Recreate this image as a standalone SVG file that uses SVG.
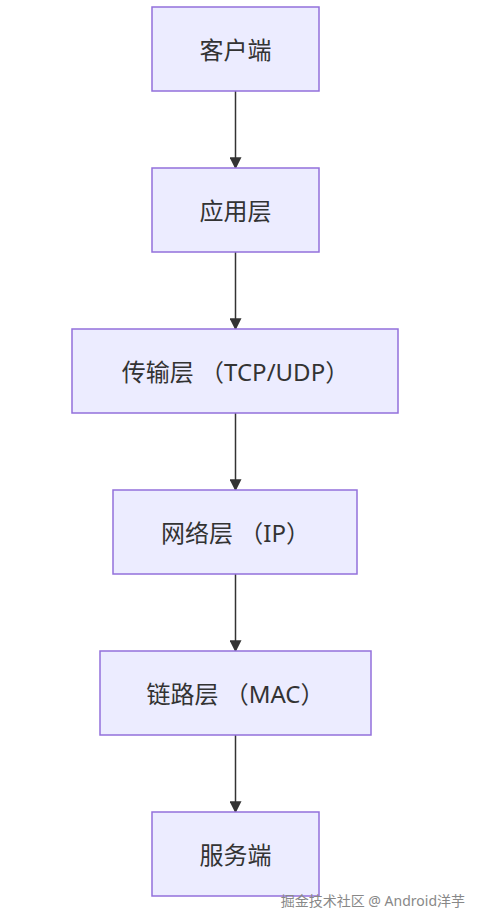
<svg xmlns="http://www.w3.org/2000/svg" width="481" height="924" viewBox="0 0 481 924">
<style>
.n rect{fill:#ECECFF;stroke:#9370DB;stroke-width:1.5}
.n text{font-family:"Noto Sans","Noto Sans CJK SC",sans-serif;font-size:24px;fill:#333;text-anchor:middle;dominant-baseline:central}
.e path{stroke:#333;stroke-width:1.5;fill:none}
</style>
<defs><marker id="a" viewBox="0 0 10 10" refX="9" refY="5" markerWidth="12" markerHeight="12" markerUnits="userSpaceOnUse" orient="auto"><path d="M0,0L10,5L0,10z" fill="#333"/></marker></defs>
<rect width="481" height="924" fill="#fff"/>
<g class="e">
<path d="M235.5,91V168" marker-end="url(#a)"/>
<path d="M235.5,252V329" marker-end="url(#a)"/>
<path d="M235.5,413V490" marker-end="url(#a)"/>
<path d="M235.5,574V651" marker-end="url(#a)"/>
<path d="M235.5,735V812" marker-end="url(#a)"/>
</g>
<g id="n1" class="n"><rect x="152" y="7" width="167" height="84"/><text x="235.5" y="49">客户端</text></g>
<g id="n2" class="n"><rect x="152" y="168" width="167" height="84"/><text x="235.5" y="210">应用层</text></g>
<g id="n3" class="n"><rect x="72" y="329" width="326" height="84"/><text x="235.5" y="371">传输层 （TCP/UDP）</text></g>
<g id="n4" class="n"><rect x="113" y="490" width="244" height="84"/><text x="235.5" y="532">网络层 （IP）</text></g>
<g id="n5" class="n"><rect x="100" y="651" width="271" height="84"/><text x="235.5" y="693">链路层 （MAC）</text></g>
<g id="n6" class="n"><rect x="152" y="812" width="167" height="84"/><text x="235.5" y="854">服务端</text></g>
<text x="465" y="906" text-anchor="end" font-family="'Noto Sans','Noto Sans CJK SC',sans-serif" font-size="14" fill="#888">掘金技术社区 @ Android洋芋</text>
</svg>
